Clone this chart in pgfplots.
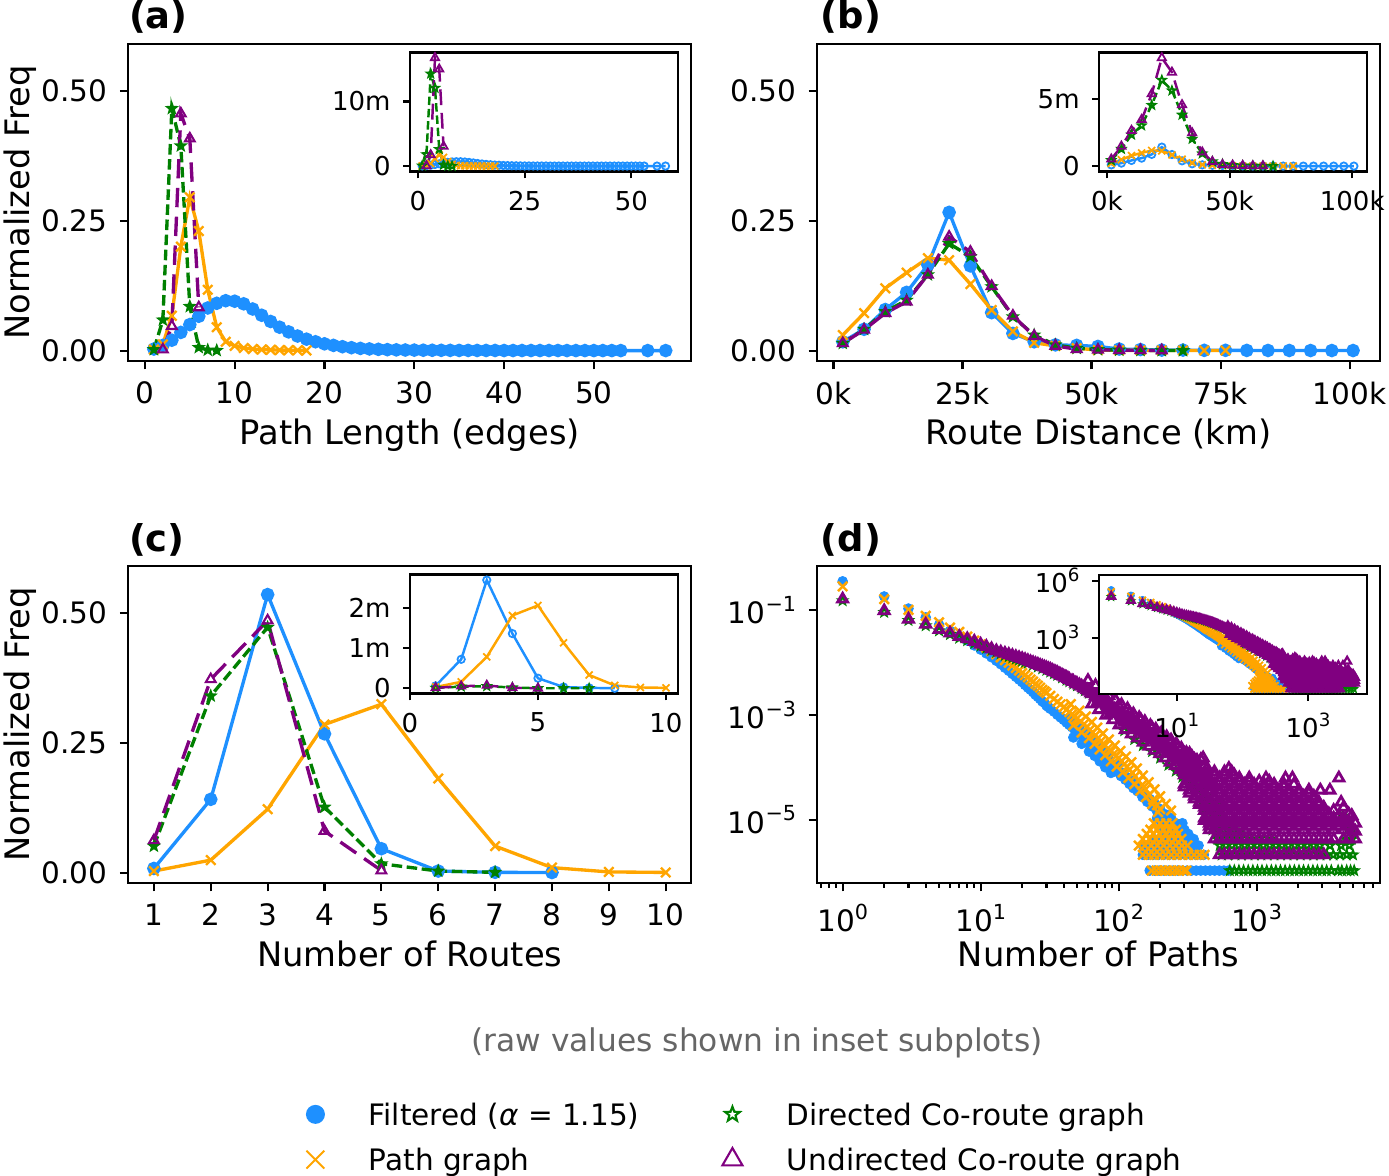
\documentclass[border=0pt]{standalone}
\usepackage{fontspec}
\setmainfont{DejaVu Sans}
\usepackage{pgfplots}
\usepackage{pgfplotstable}
\pgfplotsset{compat=1.18}
\usetikzlibrary{plotmarks}

\definecolor{cb}{HTML}{1E90FF}
\definecolor{co}{HTML}{FFA500}
\definecolor{cg}{HTML}{008000}
\definecolor{cp}{HTML}{800080}

\def\starpath{%
 \pgfpathmoveto{\pgfpointpolar{90}{\pgfplotmarksize}}%
 \pgfpathlineto{\pgfpointpolar{126}{0.42\pgfplotmarksize}}%
 \pgfpathlineto{\pgfpointpolar{162}{\pgfplotmarksize}}%
 \pgfpathlineto{\pgfpointpolar{198}{0.42\pgfplotmarksize}}%
 \pgfpathlineto{\pgfpointpolar{234}{\pgfplotmarksize}}%
 \pgfpathlineto{\pgfpointpolar{270}{0.42\pgfplotmarksize}}%
 \pgfpathlineto{\pgfpointpolar{306}{\pgfplotmarksize}}%
 \pgfpathlineto{\pgfpointpolar{342}{0.42\pgfplotmarksize}}%
 \pgfpathlineto{\pgfpointpolar{18}{\pgfplotmarksize}}%
 \pgfpathlineto{\pgfpointpolar{54}{0.42\pgfplotmarksize}}%
 \pgfpathclose}
\pgfdeclareplotmark{hstar}{\starpath\pgfusepathqstroke}
\pgfdeclareplotmark{fstar}{\starpath\pgfusepathqfillstroke}

\newcommand{\tf}{\fontsize{8.4}{10}\selectfont}
\newcommand{\lf}{\fontsize{9.6}{11}\selectfont}
\newcommand{\itf}{\fontsize{7.4}{9}\selectfont}
\newcommand{\tp}[1]{10\raisebox{0.42em}{\fontsize{5.9}{6}\selectfont #1}}
\newcommand{\tpi}[1]{10\raisebox{0.42em}{\fontsize{5.2}{6}\selectfont #1}}

\pgfplotsset{
  base/.style={scale only axis, tick pos=left, tick align=outside,
    axis line style={line width=0.6pt}, tick style={black, line width=0.6pt},
    /pgf/number format/assume math mode=true},
  mainax/.style={base, width=5.63cm, height=3.17cm, major tick length=0.085cm, minor tick length=0.05cm,
    tick label style={font=\tf}, label style={font=\lf},
    xlabel style={at={(axis description cs:0.5,-0.263)}, anchor=base},
    ylabel style={at={(axis description cs:-0.176,0.5)}, anchor=base}},
  insax/.style={base, width=2.677cm, height=1.19cm, major tick length=0.07cm,
    tick label style={font=\itf}, axis background/.style={fill=white}},
  mB/.style={cb, line width=0.95pt, mark=*, mark size=1.45pt, mark options={solid, fill=cb}},
  mO/.style={co, line width=0.95pt, mark=x, mark size=1.9pt, mark options={solid, line width=0.65pt}},
  mG/.style={cg, line width=0.95pt, dash pattern=on 3pt off 1.3pt, mark=fstar, mark size=1.5pt, mark options={solid, fill=cg, line width=0.45pt}},
  mP/.style={cp, line width=0.95pt, dash pattern=on 5.5pt off 2.7pt, mark=triangle, mark size=1.6pt, mark options={solid, line width=0.6pt}},
  iB/.style={cb, line width=0.7pt, mark=o, mark size=1.05pt, mark options={solid, line width=0.5pt}},
  iO/.style={co, line width=0.7pt, mark=x, mark size=1.4pt, mark options={solid, line width=0.5pt}},
  iG/.style={cg, line width=0.7pt, dash pattern=on 2.4pt off 1.1pt, mark=hstar, mark size=1.15pt, mark options={solid, line width=0.5pt}},
  iP/.style={cp, line width=0.7pt, dash pattern=on 4.5pt off 2.2pt, mark=triangle, mark size=1.35pt, mark options={solid, line width=0.5pt}},
  sB/.style={only marks, cb, mark=*, mark size=1.4pt, mark options={draw=cb, fill=cb, line width=0.2pt}},
  sO/.style={only marks, co, mark=x, mark size=1.9pt, mark options={line width=0.7pt}},
  sG/.style={only marks, cg, mark=hstar, mark size=1.25pt, mark options={line width=0.55pt}},
  sP/.style={only marks, cp, mark=triangle, mark size=1.65pt, mark options={line width=0.8pt}},
  tB/.style={only marks, cb, mark=*, mark size=1.0pt, mark options={draw=cb, fill=cb, line width=0.2pt}},
  tO/.style={only marks, co, mark=x, mark size=1.4pt, mark options={line width=0.55pt}},
  tG/.style={only marks, cg, mark=hstar, mark size=0.95pt, mark options={line width=0.45pt}},
  tP/.style={only marks, cp, mark=triangle, mark size=1.25pt, mark options={line width=0.65pt}},
}

% ---------------- panel (d) data (normalised frequencies) ----------------
\pgfplotstableread[row sep=\\]{
x y\\
1 0.35\\ 2 0.18\\ 3 0.106\\ 4 0.072\\ 5 0.052\\ 6 0.040\\ 7 0.032\\ 8 0.026\\ 9 0.021\\ 10 0.0175\\
11 0.0148\\ 12 0.0125\\ 13 0.0107\\ 14 0.0092\\ 15 0.0079\\ 16 0.0069\\ 17 0.0060\\ 18 0.0053\\ 19 0.0047\\ 20 0.0042\\
21 0.0037\\ 22 0.0033\\ 23 0.0030\\ 24 0.0027\\ 25 0.0024\\ 26 0.0022\\ 27 0.0020\\ 28 0.0018\\ 29 0.0017\\ 30 0.0015\\
31 0.0014\\ 32 0.0013\\ 34 0.00115\\ 36 0.00100\\ 38 0.00089\\ 40 0.00080\\ 42 0.00071\\ 44 0.00064\\ 46 0.00058\\ 48 0.00052\\
50 0.00047\\ 53 0.00041\\ 56 0.00036\\ 59 0.00031\\ 62 0.00027\\ 65 0.00024\\ 68 0.00022\\ 71 0.00020\\ 74 0.00018\\ 77 0.00016\\
80 0.000145\\ 84 0.000128\\ 88 0.000112\\ 92 0.000100\\ 96 0.000090\\ 100 0.000080\\
45 0.00085\\ 52 0.00060\\ 58 0.00046\\ 64 0.00036\\ 70 0.00028\\ 77 0.00022\\ 85 0.000175\\
47 0.00037\\ 54 0.00028\\ 61 0.00020\\ 67 0.000165\\ 73 0.000130\\ 80 0.000100\\ 88 0.000078\\
90 0.000095\\ 95 0.000110\\ 101 0.000120\\ 104 0.000068\\ 108 0.000078\\ 112 0.000058\\ 116 0.000064\\ 120 0.000048\\
124 0.000055\\ 128 0.000040\\ 132 0.000046\\ 137 0.000035\\ 143 0.000037\\ 149 0.000027\\ 155 0.000030\\ 161 0.000022\\
168 0.000025\\ 175 0.000018\\ 183 0.000020\\ 191 0.000014\\ 200 0.000016\\ 210 0.000011\\ 220 0.0000126\\ 232 0.0000097\\ 245 0.0000086\\
190 1.075e-5\\ 215 1.075e-5\\ 240 1.075e-5\\
205 8.6e-6\\ 230 8.6e-6\\ 260 8.6e-6\\ 290 8.6e-6\\
215 6.45e-6\\ 245 6.45e-6\\ 275 6.45e-6\\ 300 6.45e-6\\
225 5.38e-6\\ 255 5.38e-6\\ 290 5.38e-6\\ 320 5.38e-6\\
180 4.3e-6\\ 210 4.3e-6\\ 240 4.3e-6\\ 270 4.3e-6\\ 300 4.3e-6\\ 335 4.3e-6\\ 350 4.3e-6\\
150 3.23e-6\\ 165 3.23e-6\\ 185 3.23e-6\\ 205 3.23e-6\\ 225 3.23e-6\\ 250 3.23e-6\\ 275 3.23e-6\\ 300 3.23e-6\\ 330 3.23e-6\\ 360 3.23e-6\\ 380 3.23e-6\\
150 2.15e-6\\ 163 2.15e-6\\ 178 2.15e-6\\ 195 2.15e-6\\ 213 2.15e-6\\ 233 2.15e-6\\ 255 2.15e-6\\ 278 2.15e-6\\ 305 2.15e-6\\ 333 2.15e-6\\ 363 2.15e-6\\ 395 2.15e-6\\ 415 2.15e-6\\
168 1.075e-6\\ 182 1.075e-6\\ 197 1.075e-6\\ 213 1.075e-6\\ 230 1.075e-6\\ 248 1.075e-6\\ 268 1.075e-6\\ 290 1.075e-6\\ 313 1.075e-6\\
338 1.075e-6\\ 365 1.075e-6\\ 394 1.075e-6\\ 426 1.075e-6\\ 460 1.075e-6\\ 497 1.075e-6\\ 537 1.075e-6\\ 580 1.075e-6\\ 625 1.075e-6\\
}\dBlue

\pgfplotstableread[row sep=\\]{
x y\\
1 0.28\\ 2 0.16\\ 3 0.100\\ 4 0.077\\ 5 0.058\\ 6 0.046\\ 7 0.038\\ 8 0.031\\ 9 0.026\\ 10 0.022\\
11 0.0190\\ 12 0.0163\\ 13 0.0142\\ 14 0.0124\\ 15 0.0110\\ 16 0.0098\\ 17 0.0087\\ 18 0.0078\\ 19 0.0070\\ 20 0.0063\\
21 0.0057\\ 22 0.0052\\ 23 0.0047\\ 24 0.0043\\ 25 0.0039\\ 26 0.0036\\ 27 0.0033\\ 28 0.0030\\ 29 0.0028\\ 30 0.0026\\
32 0.0023\\ 34 0.0020\\ 36 0.00178\\ 38 0.00158\\ 40 0.00140\\ 42 0.00126\\ 44 0.00113\\ 46 0.00102\\ 48 0.00093\\ 50 0.00085\\
53 0.00075\\ 56 0.00066\\ 59 0.00059\\ 62 0.00052\\ 65 0.00046\\ 68 0.00041\\ 71 0.00036\\ 74 0.00031\\ 77 0.00028\\ 80 0.00026\\
84 0.00023\\ 88 0.00020\\ 92 0.000180\\ 96 0.000165\\ 100 0.000150\\ 105 0.000130\\ 110 0.000115\\ 115 0.000102\\ 120 0.000090\\
126 0.000078\\ 132 0.000068\\ 140 0.000055\\ 148 0.000046\\ 157 0.000038\\ 167 0.000030\\ 178 0.000024\\ 190 0.000019\\ 200 0.000016\\
45 0.0016\\ 52 0.0012\\ 58 0.00093\\ 64 0.00073\\ 70 0.00057\\ 77 0.00044\\ 85 0.00034\\ 94 0.00026\\ 103 0.000205\\
113 0.000160\\ 124 0.000125\\ 136 0.000095\\ 150 0.000070\\ 165 0.000052\\ 182 0.000038\\ 200 0.000028\\ 220 0.000020\\ 240 0.000015\\
47 0.00063\\ 54 0.00046\\ 61 0.00036\\ 67 0.00028\\ 73 0.00022\\ 80 0.00017\\ 88 0.000130\\ 97 0.000103\\ 107 0.000080\\
118 0.000063\\ 130 0.000048\\ 144 0.000036\\ 158 0.000027\\ 175 0.000020\\ 193 0.000014\\
180 8.6e-6\\ 200 8.6e-6\\ 222 8.6e-6\\ 245 8.6e-6\\
170 6.45e-6\\ 190 6.45e-6\\ 212 6.45e-6\\ 236 6.45e-6\\ 260 6.45e-6\\
160 5.38e-6\\ 178 5.38e-6\\ 198 5.38e-6\\ 220 5.38e-6\\ 244 5.38e-6\\ 270 5.38e-6\\
150 4.3e-6\\ 167 4.3e-6\\ 186 4.3e-6\\ 207 4.3e-6\\ 230 4.3e-6\\ 256 4.3e-6\\ 285 4.3e-6\\
140 3.23e-6\\ 155 3.23e-6\\ 172 3.23e-6\\ 191 3.23e-6\\ 212 3.23e-6\\ 235 3.23e-6\\ 260 3.23e-6\\ 288 3.23e-6\\ 315 3.23e-6\\
150 2.15e-6\\ 165 2.15e-6\\ 181 2.15e-6\\ 199 2.15e-6\\ 219 2.15e-6\\ 241 2.15e-6\\ 265 2.15e-6\\ 291 2.15e-6\\ 320 2.15e-6\\ 352 2.15e-6\\ 387 2.15e-6\\ 420 2.15e-6\\
174 1.075e-6\\ 188 1.075e-6\\ 203 1.075e-6\\ 219 1.075e-6\\ 236 1.075e-6\\ 255 1.075e-6\\ 275 1.075e-6\\ 297 1.075e-6\\ 310 1.075e-6\\
}\dOrange

\pgfplotstableread[row sep=\\]{
x y\\
1 0.15\\ 2 0.090\\ 3 0.063\\ 4 0.050\\ 5 0.040\\ 6 0.034\\ 7 0.029\\ 8 0.026\\ 9 0.023\\ 10 0.0205\\
11 0.0186\\ 12 0.0170\\ 13 0.0156\\ 14 0.0146\\ 15 0.0136\\ 16 0.0129\\ 17 0.0122\\ 18 0.0116\\ 19 0.0111\\ 20 0.0106\\
21 0.0101\\ 22 0.0097\\ 24 0.0089\\ 26 0.0082\\ 28 0.0076\\ 30 0.0071\\ 32 0.0066\\ 34 0.0061\\ 36 0.0057\\ 39 0.0051\\
42 0.0046\\ 44 0.0043\\ 47 0.0039\\ 50 0.0036\\ 54 0.0032\\ 57 0.0029\\ 61 0.0026\\ 65 0.0023\\ 70 0.0020\\ 74 0.00175\\
79 0.00156\\ 84 0.00138\\ 90 0.00122\\ 96 0.00108\\ 102 0.00096\\ 108 0.00086\\ 115 0.00077\\ 121 0.00069\\ 128 0.00062\\ 136 0.00055\\
144 0.00050\\ 152 0.00045\\ 161 0.00041\\ 170 0.00037\\ 180 0.00033\\ 189 0.00030\\ 200 0.00027\\ 210 0.00025\\ 222 0.00022\\ 233 0.00020\\
246 0.000182\\ 259 0.000165\\ 273 0.000147\\ 288 0.000130\\ 304 0.000115\\ 320 0.000100\\ 337 0.000090\\ 355 0.000080\\ 375 0.000071\\ 395 0.000063\\
110 0.00050\\ 130 0.00034\\ 150 0.00026\\ 175 0.00020\\ 200 0.00015\\ 230 0.00011\\ 260 0.000085\\ 290 0.000065\\ 320 0.000050\\ 350 0.000040\\
640 1.075e-6\\ 690 1.075e-6\\ 745 1.075e-6\\ 805 1.075e-6\\ 870 1.075e-6\\ 940 1.075e-6\\ 1015 1.075e-6\\ 1095 1.075e-6\\ 1185 1.075e-6\\ 1280 1.075e-6\\
1380 1.075e-6\\ 1490 1.075e-6\\ 1610 1.075e-6\\ 1740 1.075e-6\\ 1880 1.075e-6\\ 2030 1.075e-6\\ 2190 1.075e-6\\ 2370 1.075e-6\\ 2560 1.075e-6\\ 2760 1.075e-6\\
2980 1.075e-6\\ 3220 1.075e-6\\ 3480 1.075e-6\\ 3900 1.075e-6\\ 4150 1.075e-6\\ 4500 1.075e-6\\ 4800 1.075e-6\\ 5100 1.075e-6\\
560 2.15e-6\\ 620 2.15e-6\\ 700 2.15e-6\\ 780 2.15e-6\\ 870 2.15e-6\\ 970 2.15e-6\\ 1080 2.15e-6\\ 1200 2.15e-6\\ 1340 2.15e-6\\ 1500 2.15e-6\\
1670 2.15e-6\\ 1860 2.15e-6\\ 2080 2.15e-6\\ 2320 2.15e-6\\ 2590 2.15e-6\\ 2890 2.15e-6\\ 3230 2.15e-6\\ 3600 2.15e-6\\ 4020 2.15e-6\\ 4500 2.15e-6\\ 5000 2.15e-6\\
540 3.23e-6\\ 600 3.23e-6\\ 665 3.23e-6\\ 740 3.23e-6\\ 820 3.23e-6\\ 910 3.23e-6\\ 1010 3.23e-6\\ 1120 3.23e-6\\ 1245 3.23e-6\\ 1380 3.23e-6\\
1530 3.23e-6\\ 1700 3.23e-6\\ 1890 3.23e-6\\ 2100 3.23e-6\\ 2330 3.23e-6\\ 2590 3.23e-6\\ 2870 3.23e-6\\ 3400 3.23e-6\\ 4100 3.23e-6\\ 4700 3.23e-6\\
520 4.3e-6\\ 580 4.3e-6\\ 650 4.3e-6\\ 730 4.3e-6\\ 820 4.3e-6\\ 920 4.3e-6\\ 1030 4.3e-6\\ 1150 4.3e-6\\ 1290 4.3e-6\\ 4400 4.3e-6\\ 4900 4.3e-6\\
500 5.38e-6\\ 560 5.38e-6\\ 630 5.38e-6\\ 710 5.38e-6\\ 800 5.38e-6\\ 5100 5.38e-6\\
480 6.45e-6\\ 540 6.45e-6\\ 610 6.45e-6\\ 690 6.45e-6\\ 4600 6.45e-6\\
460 8.6e-6\\ 520 8.6e-6\\ 590 8.6e-6\\ 670 8.6e-6\\
440 1.18e-5\\ 500 1.18e-5\\ 570 1.18e-5\\ 4200 1.18e-5\\
420 1.61e-5\\ 480 1.61e-5\\ 550 1.61e-5\\
400 2.15e-5\\ 460 2.15e-5\\ 530 2.15e-5\\
380 3.0e-5\\ 440 3.0e-5\\ 355 4.3e-5\\ 410 4.3e-5\\ 330 5.9e-5\\ 380 5.9e-5\\
}\dGreen

\pgfplotstableread[row sep=\\]{
x y\\
1 0.16\\ 2 0.096\\ 3 0.066\\ 4 0.053\\ 5 0.042\\ 6 0.036\\ 7 0.031\\ 8 0.028\\ 9 0.025\\ 10 0.022\\
11 0.020\\ 12 0.0180\\ 13 0.0165\\ 14 0.0156\\ 15 0.0148\\ 16 0.0141\\ 17 0.0134\\ 18 0.0128\\ 19 0.0122\\ 20 0.0117\\
21 0.0112\\ 22 0.0107\\ 23 0.0102\\ 24 0.0098\\ 25 0.0094\\ 26 0.0091\\ 27 0.0087\\ 28 0.0084\\ 29 0.0081\\ 30 0.0078\\ 31 0.0075\\ 32 0.0073\\ 33 0.0070\\ 34 0.0067\\ 35 0.0065\\ 36 0.0063\\ 37 0.0060\\ 38 0.0058\\ 39 0.0056\\ 40 0.0054\\
41 0.0052\\ 42 0.0051\\ 43 0.0049\\ 44 0.0047\\ 46 0.0044\\ 47 0.0043\\ 49 0.0040\\ 50 0.0039\\ 52 0.0037\\ 54 0.0035\\ 56 0.0033\\ 57 0.0032\\ 59 0.0030\\ 61 0.0028\\ 63 0.0026\\ 65 0.0025\\ 68 0.0023\\ 70 0.0022\\ 72 0.0020\\ 74 0.0019\\
77 0.0018\\ 79 0.0017\\ 82 0.0016\\ 84 0.0015\\ 87 0.00142\\ 90 0.00135\\ 93 0.00127\\ 96 0.00120\\ 99 0.00113\\ 102 0.00106\\ 105 0.00100\\ 108 0.00094\\ 111 0.00089\\ 115 0.00084\\ 118 0.00079\\ 121 0.00075\\ 125 0.00071\\ 128 0.00067\\ 132 0.00063\\ 136 0.00060\\
140 0.00057\\ 144 0.00054\\ 148 0.00051\\ 152 0.00049\\ 156 0.00046\\ 161 0.00044\\ 165 0.00042\\ 170 0.00040\\ 175 0.00038\\ 180 0.00036\\ 185 0.00034\\ 189 0.00033\\ 195 0.00031\\ 200 0.00030\\ 205 0.00028\\ 210 0.00027\\ 216 0.00025\\ 222 0.00024\\ 227 0.00023\\ 233 0.00022\\
240 0.00021\\ 246 0.00020\\ 252 0.00019\\ 259 0.00018\\ 266 0.00017\\ 273 0.00016\\ 280 0.00015\\ 288 0.00014\\ 296 0.000132\\ 304 0.000125\\ 312 0.000117\\ 320 0.000110\\ 328 0.000104\\ 337 0.000099\\ 346 0.000093\\ 355 0.000088\\ 365 0.000083\\ 375 0.000078\\ 385 0.000074\\ 395 0.000070\\
406 0.000066\\ 417 0.000063\\ 428 0.000059\\ 440 0.000056\\ 451 0.000053\\ 462 0.000050\\ 474 0.000047\\ 486 0.000045\\
60 0.0045\\ 68 0.0036\\ 76 0.0029\\ 85 0.0023\\ 95 0.0019\\ 105 0.00155\\ 116 0.00130\\ 128 0.00104\\ 141 0.00088\\ 155 0.00074\\
170 0.00062\\ 186 0.00053\\ 204 0.00045\\ 223 0.00038\\ 240 0.00033\\ 262 0.00028\\ 285 0.00023\\ 310 0.00019\\ 340 0.00016\\ 370 0.000135\\ 410 0.000150\\ 440 0.000095\\
64 0.0016\\ 72 0.00125\\ 81 0.00098\\ 91 0.00080\\ 101 0.00064\\ 112 0.00052\\ 124 0.00043\\ 137 0.00036\\ 151 0.00030\\
166 0.00025\\ 182 0.00021\\ 199 0.00018\\ 217 0.00015\\ 237 0.000125\\ 258 0.000107\\ 281 0.000090\\ 306 0.000075\\ 333 0.000062\\
80 0.0022\\ 100 0.0015\\ 120 0.00110\\ 145 0.00080\\ 175 0.00056\\ 200 0.00043\\ 230 0.00032\\ 270 0.00024\\ 300 0.00018\\ 350 0.00012\\
70 0.0017\\ 88 0.0011\\ 110 0.00072\\ 130 0.00052\\ 160 0.00036\\ 190 0.00026\\ 225 0.00019\\ 265 0.00014\\ 300 0.000098\\ 350 0.000070\\
538 2.15e-6\\ 585 2.15e-6\\ 635 2.15e-6\\ 690 2.15e-6\\ 750 2.15e-6\\ 815 2.15e-6\\ 885 2.15e-6\\ 960 2.15e-6\\ 1045 2.15e-6\\ 1135 2.15e-6\\ 1235 2.15e-6\\
1340 2.15e-6\\ 1455 2.15e-6\\ 1580 2.15e-6\\ 1720 2.15e-6\\ 1865 2.15e-6\\ 2030 2.15e-6\\ 2200 2.15e-6\\ 2395 2.15e-6\\ 2600 2.15e-6\\ 2830 2.15e-6\\ 3070 2.15e-6\\
495 4.3e-6\\ 538 4.3e-6\\ 585 4.3e-6\\ 635 4.3e-6\\ 690 4.3e-6\\ 750 4.3e-6\\ 815 4.3e-6\\ 885 4.3e-6\\ 960 4.3e-6\\ 1045 4.3e-6\\ 1135 4.3e-6\\ 1235 4.3e-6\\ 1340 4.3e-6\\ 1455 4.3e-6\\
1580 4.3e-6\\ 1720 4.3e-6\\ 1865 4.3e-6\\ 2030 4.3e-6\\ 2200 4.3e-6\\ 2395 4.3e-6\\ 2600 4.3e-6\\ 2830 4.3e-6\\ 3070 4.3e-6\\ 3340 4.3e-6\\ 3620 4.3e-6\\ 4270 4.3e-6\\ 4650 4.3e-6\\ 5200 4.3e-6\\
456 6.45e-6\\ 495 6.45e-6\\ 585 6.45e-6\\ 690 6.45e-6\\ 815 6.45e-6\\ 960 6.45e-6\\ 1135 6.45e-6\\ 1340 6.45e-6\\ 1580 6.45e-6\\ 1865 6.45e-6\\ 2200 6.45e-6\\ 2600 6.45e-6\\ 3070 6.45e-6\\ 3620 6.45e-6\\ 4270 6.45e-6\\ 5040 6.45e-6\\
456 7.5e-6\\ 538 7.5e-6\\ 635 7.5e-6\\ 750 7.5e-6\\ 885 7.5e-6\\ 1045 7.5e-6\\ 1235 7.5e-6\\ 1455 7.5e-6\\ 1720 7.5e-6\\ 2030 7.5e-6\\ 2395 7.5e-6\\ 2830 7.5e-6\\ 3340 7.5e-6\\ 3940 7.5e-6\\ 4650 7.5e-6\\
456 8.6e-6\\ 538 8.6e-6\\ 635 8.6e-6\\ 750 8.6e-6\\ 885 8.6e-6\\ 1045 8.6e-6\\ 1235 8.6e-6\\ 1455 8.6e-6\\ 1720 8.6e-6\\ 2030 8.6e-6\\ 2395 8.6e-6\\ 2830 8.6e-6\\ 3340 8.6e-6\\ 3940 8.6e-6\\ 4650 8.6e-6\\ 5200 8.6e-6\\
420 9.7e-6\\ 495 9.7e-6\\ 585 9.7e-6\\ 690 9.7e-6\\ 815 9.7e-6\\ 960 9.7e-6\\ 1135 9.7e-6\\ 1340 9.7e-6\\ 1580 9.7e-6\\ 1865 9.7e-6\\ 2200 9.7e-6\\ 2600 9.7e-6\\ 3070 9.7e-6\\ 3620 9.7e-6\\ 4270 9.7e-6\\
420 1.075e-5\\ 495 1.075e-5\\ 585 1.075e-5\\ 690 1.075e-5\\ 815 1.075e-5\\ 960 1.075e-5\\ 1135 1.075e-5\\ 1340 1.075e-5\\ 1580 1.075e-5\\ 1865 1.075e-5\\ 2200 1.075e-5\\ 2600 1.075e-5\\ 3070 1.075e-5\\ 3620 1.075e-5\\ 4270 1.075e-5\\
456 1.18e-5\\ 538 1.18e-5\\ 635 1.18e-5\\ 750 1.18e-5\\ 885 1.18e-5\\ 1045 1.18e-5\\ 1235 1.18e-5\\ 1455 1.18e-5\\ 1720 1.18e-5\\ 2030 1.18e-5\\ 2395 1.18e-5\\ 2830 1.18e-5\\ 3340 1.18e-5\\ 3940 1.18e-5\\
456 1.29e-5\\ 538 1.29e-5\\ 635 1.29e-5\\ 750 1.29e-5\\ 885 1.29e-5\\ 1045 1.29e-5\\ 1235 1.29e-5\\ 1455 1.29e-5\\ 1720 1.29e-5\\ 2030 1.29e-5\\ 2395 1.29e-5\\ 2830 1.29e-5\\ 3340 1.29e-5\\ 4650 1.29e-5\\
420 1.5e-5\\ 495 1.5e-5\\ 585 1.5e-5\\ 690 1.5e-5\\ 815 1.5e-5\\ 960 1.5e-5\\ 1135 1.5e-5\\ 1340 1.5e-5\\ 1580 1.5e-5\\ 1865 1.5e-5\\ 2200 1.5e-5\\ 2600 1.5e-5\\ 3070 1.5e-5\\ 3620 1.5e-5\\
420 1.72e-5\\ 495 1.72e-5\\ 585 1.72e-5\\ 690 1.72e-5\\ 815 1.72e-5\\ 960 1.72e-5\\ 1135 1.72e-5\\ 1340 1.72e-5\\ 1580 1.72e-5\\ 1865 1.72e-5\\ 2200 1.72e-5\\ 2600 1.72e-5\\ 3070 1.72e-5\\ 4270 1.72e-5\\
386 1.94e-5\\ 456 1.94e-5\\ 538 1.94e-5\\ 635 1.94e-5\\ 750 1.94e-5\\ 885 1.94e-5\\ 1045 1.94e-5\\ 1235 1.94e-5\\ 1455 1.94e-5\\ 1720 1.94e-5\\ 2030 1.94e-5\\ 2395 1.94e-5\\ 2830 1.94e-5\\
386 2.15e-5\\ 456 2.15e-5\\ 538 2.15e-5\\ 635 2.15e-5\\ 750 2.15e-5\\ 885 2.15e-5\\ 1045 2.15e-5\\ 1235 2.15e-5\\ 1455 2.15e-5\\ 1720 2.15e-5\\ 2030 2.15e-5\\ 2395 2.15e-5\\ 2830 2.15e-5\\ 4100 2.15e-5\\
355 2.47e-5\\ 420 2.47e-5\\ 495 2.47e-5\\ 585 2.47e-5\\ 690 2.47e-5\\ 815 2.47e-5\\ 960 2.47e-5\\ 1135 2.47e-5\\ 1340 2.47e-5\\ 1580 2.47e-5\\ 1865 2.47e-5\\ 2200 2.47e-5\\ 2600 2.47e-5\\
355 2.8e-5\\ 420 2.8e-5\\ 495 2.8e-5\\ 585 2.8e-5\\ 690 2.8e-5\\ 815 2.8e-5\\ 960 2.8e-5\\ 1135 2.8e-5\\ 1340 2.8e-5\\ 1580 2.8e-5\\ 1865 2.8e-5\\ 2200 2.8e-5\\ 2600 2.8e-5\\
327 3.2e-5\\ 386 3.2e-5\\ 456 3.2e-5\\ 538 3.2e-5\\ 635 3.2e-5\\ 750 3.2e-5\\ 885 3.2e-5\\ 1045 3.2e-5\\ 1235 3.2e-5\\ 1455 3.2e-5\\ 1720 3.2e-5\\ 2030 3.2e-5\\ 2395 3.2e-5\\
327 3.66e-5\\ 386 3.66e-5\\ 456 3.66e-5\\ 538 3.66e-5\\ 635 3.66e-5\\ 750 3.66e-5\\ 885 3.66e-5\\ 1045 3.66e-5\\ 1235 3.66e-5\\ 1455 3.66e-5\\ 1720 3.66e-5\\ 2030 3.66e-5\\ 2395 3.66e-5\\ 2900 3.66e-5\\ 3400 3.66e-5\\
300 4.2e-5\\ 355 4.2e-5\\ 420 4.2e-5\\ 495 4.2e-5\\ 585 4.2e-5\\ 690 4.2e-5\\ 815 4.2e-5\\ 960 4.2e-5\\ 1135 4.2e-5\\ 1340 4.2e-5\\ 1580 4.2e-5\\
300 4.73e-5\\ 355 4.73e-5\\ 420 4.73e-5\\ 495 4.73e-5\\ 585 4.73e-5\\ 690 4.73e-5\\ 815 4.73e-5\\ 960 4.73e-5\\ 1135 4.73e-5\\ 1340 4.73e-5\\ 1580 4.73e-5\\ 1865 4.73e-5\\
327 5.4e-5\\ 386 5.4e-5\\ 456 5.4e-5\\ 538 5.4e-5\\ 635 5.4e-5\\ 750 5.4e-5\\ 885 5.4e-5\\ 1045 5.4e-5\\ 1235 5.4e-5\\
327 6.24e-5\\ 386 6.24e-5\\ 456 6.24e-5\\ 538 6.24e-5\\ 635 6.24e-5\\ 750 6.24e-5\\ 885 6.24e-5\\ 1170 6.24e-5\\ 1620 6.24e-5\\ 1820 6.24e-5\\ 3950 6.24e-5\\
300 7.1e-5\\ 355 7.1e-5\\ 420 7.1e-5\\ 495 7.1e-5\\ 585 7.1e-5\\ 690 7.1e-5\\
300 8.17e-5\\ 355 8.17e-5\\ 420 8.17e-5\\ 495 8.17e-5\\ 585 8.17e-5\\ 660 8.17e-5\\ 630 9.5e-5\\
300 1.075e-4\\ 355 1.075e-4\\ 420 1.075e-4\\ 300 1.4e-4\\ 355 1.4e-4\\ 395 1.4e-4\\ 300 1.83e-4\\ 327 1.83e-4\\
4900 1.2e-5\\ 5200 6.0e-6\\
}\dPurple

\begin{document}
\begin{tikzpicture}
\useasboundingbox (0,0) rectangle (13.89cm,11.76cm);

% ================= (a) =================
\begin{axis}[mainax, at={(1.283cm,8.15cm)}, anchor=south west,
  xmin=-1.85, xmax=60.85, ymin=-0.02, ymax=0.59,
  xtick={0,10,20,30,40,50}, ytick={0,0.25,0.5}, yticklabels={0.00,0.25,0.50},
  xlabel={Path Length (edges)}, ylabel={Normalized Freq}]
\addplot[mB] coordinates {(1,0.003)(2,0.010)(3,0.020)(4,0.035)(5,0.050)(6,0.066)(7,0.082)(8,0.091)(9,0.096)(10,0.095)(11,0.090)(12,0.080)(13,0.068)(14,0.056)(15,0.045)(16,0.036)(17,0.028)(18,0.022)(19,0.017)(20,0.013)(21,0.010)(22,0.0075)(23,0.0056)(24,0.0042)(25,0.0032)(26,0.0024)(27,0.0018)(28,0.0014)(29,0.0011)(30,0.0009)(31,0.0007)(32,0.0006)(33,0.0005)(34,0.0004)(35,0.0003)(36,0.0003)(37,0.0002)(38,0.0002)(39,0.0002)(40,0.0001)(41,0.0001)(42,0.0001)(43,0.0001)(44,0.0001)(45,0.0001)(46,0.0001)(47,0)(48,0)(49,0)(50,0)(51,0)(52,0)(53,0)(56,0)(58,0)};
\addplot[mO] coordinates {(1,0.002)(2,0.012)(3,0.067)(4,0.200)(5,0.295)(6,0.230)(7,0.117)(8,0.045)(9,0.017)(10,0.009)(11,0.005)(12,0.003)(13,0.002)(14,0.0015)(15,0.001)(16,0.0007)(17,0.0005)(18,0.0003)};
\addplot[mG] coordinates {(1,0.002)(2,0.059)(3,0.466)(4,0.394)(5,0.085)(6,0.006)(7,0.001)(8,0.0003)};
\addplot[mP] coordinates {(2,0.002)(3,0.047)(4,0.456)(5,0.408)(6,0.083)};
\end{axis}
\begin{axis}[insax, at={(4.10cm,10.045cm)}, anchor=south west,
  xmin=-1.85, xmax=60.85, ymin=-0.84, ymax=17.6,
  xtick={0,25,50}, ytick={0,10}, yticklabels={0,10m}]
\addplot[iB] coordinates {(1,0.02)(2,0.07)(3,0.14)(4,0.25)(5,0.35)(6,0.46)(7,0.57)(8,0.64)(9,0.67)(10,0.67)(11,0.63)(12,0.56)(13,0.48)(14,0.39)(15,0.32)(16,0.25)(17,0.20)(18,0.15)(19,0.12)(20,0.09)(21,0.07)(22,0.05)(23,0.04)(24,0.03)(25,0.02)(26,0.02)(27,0.01)(28,0.01)(29,0.01)(30,0.01)(31,0)(32,0)(33,0)(34,0)(35,0)(36,0)(37,0)(38,0)(39,0)(40,0)(41,0)(42,0)(43,0)(44,0)(45,0)(46,0)(47,0)(48,0)(49,0)(50,0)(51,0)(52,0)(53,0)(56,0)(58,0)};
\addplot[iO] coordinates {(1,0.01)(2,0.07)(3,0.39)(4,1.16)(5,1.71)(6,1.33)(7,0.68)(8,0.26)(9,0.10)(10,0.05)(11,0.03)(12,0.02)(13,0.01)(14,0.01)(15,0.01)(16,0)(17,0)(18,0)};
\addplot[iG] coordinates {(1,0.06)(2,1.81)(3,14.31)(4,12.10)(5,2.61)(6,0.18)(7,0.03)(8,0.01)};
\addplot[iP] coordinates {(2,0.04)(3,1.73)(4,16.78)(5,15.01)(6,3.05)};
\end{axis}

% ================= (b) =================
\begin{axis}[mainax, at={(8.17cm,8.15cm)}, anchor=south west,
  xmin=-3.2, xmax=105.9, ymin=-0.02, ymax=0.59,
  xtick={0,25,50,75,100}, xticklabels={0k,25k,50k,75k,100k},
  ytick={0,0.25,0.5}, yticklabels={0.00,0.25,0.50},
  xlabel={Route Distance (km)}]
\addplot[mB] coordinates {(1.8,0.017)(5.92,0.041)(10.04,0.079)(14.16,0.112)(18.28,0.165)(22.40,0.266)(26.52,0.163)(30.64,0.073)(34.76,0.033)(38.88,0.017)(43.00,0.011)(47.12,0.010)(51.24,0.008)(55.36,0.003)(59.48,0.002)(63.60,0.001)(67.72,0.001)(71.84,0.0005)(75.96,0.0005)(80.08,0.0003)(84.20,0.0002)(88.32,0.0002)(92.44,0.0001)(96.56,0.0001)(100.68,0.0001)};
\addplot[mO] coordinates {(1.8,0.030)(5.92,0.072)(10.04,0.120)(14.16,0.150)(18.28,0.178)(22.40,0.174)(26.52,0.128)(30.64,0.078)(34.76,0.037)(38.88,0.015)(43.00,0.009)(47.12,0.0045)(51.24,0.001)(55.36,0.0005)(59.48,0.0003)(63.60,0.0002)(67.72,0.0001)(71.84,0.0001)(75.96,0.0001)};
\addplot[mG] coordinates {(1.8,0.014)(5.92,0.041)(10.04,0.075)(14.16,0.097)(18.28,0.146)(22.40,0.206)(26.52,0.181)(30.64,0.123)(34.76,0.065)(38.88,0.030)(43.00,0.011)(47.12,0.0045)(51.24,0.002)(55.36,0.001)(59.48,0.0005)(63.60,0.0002)(67.72,0.0001)};
\addplot[mP] coordinates {(1.8,0.014)(5.92,0.040)(10.04,0.072)(14.16,0.094)(18.28,0.146)(22.40,0.219)(26.52,0.190)(30.64,0.124)(34.76,0.067)(38.88,0.028)(43.00,0.009)(47.12,0.0026)(51.24,0.0015)(55.36,0.0008)(59.48,0.0004)(63.60,0.0002)};
\end{axis}
\begin{axis}[insax, at={(10.99cm,10.045cm)}, anchor=south west,
  xmin=-3.2, xmax=105.9, ymin=-0.40, ymax=8.44,
  xtick={0,50,100}, xticklabels={0k,50k,100k}, ytick={0,5}, yticklabels={0,5m}]
\addplot[iB] coordinates {(1.8,0.09)(5.92,0.22)(10.04,0.42)(14.16,0.59)(18.28,0.87)(22.40,1.41)(26.52,0.86)(30.64,0.39)(34.76,0.17)(38.88,0.09)(43.00,0.06)(47.12,0.05)(51.24,0.04)(55.36,0.02)(59.48,0.01)(63.60,0.01)(67.72,0.01)(71.84,0)(75.96,0)(80.08,0)(84.20,0)(88.32,0)(92.44,0)(96.56,0)(100.68,0)};
\addplot[iO] coordinates {(1.8,0.20)(5.92,0.47)(10.04,0.78)(14.16,0.98)(18.28,1.16)(22.40,1.13)(26.52,0.83)(30.64,0.51)(34.76,0.24)(38.88,0.10)(43.00,0.06)(47.12,0.03)(51.24,0.01)(55.36,0)(59.48,0)(63.60,0)(67.72,0)(71.84,0)(75.96,0)};
\addplot[iG] coordinates {(1.8,0.43)(5.92,1.27)(10.04,2.33)(14.16,3.01)(18.28,4.53)(22.40,6.39)(26.52,5.61)(30.64,3.81)(34.76,2.02)(38.88,0.93)(43.00,0.34)(47.12,0.14)(51.24,0.06)(55.36,0.03)(59.48,0.02)(63.60,0.01)(67.72,0)};
\addplot[iP] coordinates {(1.8,0.51)(5.92,1.47)(10.04,2.64)(14.16,3.45)(18.28,5.36)(22.40,8.04)(26.52,6.97)(30.64,4.55)(34.76,2.46)(38.88,1.03)(43.00,0.33)(47.12,0.10)(51.24,0.06)(55.36,0.03)(59.48,0.01)(63.60,0.01)};
\end{axis}

% ================= (c) =================
\begin{axis}[mainax, at={(1.283cm,2.93cm)}, anchor=south west,
  xmin=0.55, xmax=10.45, ymin=-0.02, ymax=0.59,
  xtick={1,2,3,4,5,6,7,8,9,10}, ytick={0,0.25,0.5}, yticklabels={0.00,0.25,0.50},
  xlabel={Number of Routes}, ylabel={Normalized Freq}]
\addplot[mB] coordinates {(1,0.008)(2,0.141)(3,0.535)(4,0.267)(5,0.046)(6,0.003)(7,0.0005)(8,0.0001)};
\addplot[mO] coordinates {(1,0.003)(2,0.024)(3,0.122)(4,0.285)(5,0.324)(6,0.181)(7,0.051)(8,0.0096)(9,0.0013)(10,0.0003)};
\addplot[mG] coordinates {(1,0.051)(2,0.340)(3,0.472)(4,0.126)(5,0.017)(6,0.003)(7,0.0005)};
\addplot[mP] coordinates {(1,0.062)(2,0.372)(3,0.485)(4,0.080)(5,0.004)};
\end{axis}
\begin{axis}[insax, at={(4.10cm,4.825cm)}, anchor=south west,
  xmin=0, xmax=10.46, ymin=-0.13, ymax=2.83,
  xtick={0,5,10}, ytick={0,1,2}, yticklabels={0,1m,2m}]
\addplot[iB] coordinates {(1,0.06)(2,0.72)(3,2.69)(4,1.36)(5,0.25)(6,0.03)(7,0.01)(8,0.00)};
\addplot[iO] coordinates {(1,0.03)(2,0.16)(3,0.78)(4,1.81)(5,2.06)(6,1.13)(7,0.33)(8,0.07)(9,0.02)(10,0.01)};
\addplot[iG] coordinates {(1,0.01)(2,0.04)(3,0.05)(4,0.02)(5,0.00)(6,0.00)(7,0.00)};
\addplot[iP] coordinates {(1,0.01)(2,0.05)(3,0.07)(4,0.01)(5,0.00)};
\end{axis}

% ================= (d) =================
\begin{axis}[mainax, at={(8.17cm,2.93cm)}, anchor=south west,
  xmode=log, ymode=log, xmin=0.652, xmax=7852, ymin=6.24e-7, ymax=0.686,
  xtick={1,10,100,1000}, xticklabels={\tp{0},\tp{1},\tp{2},\tp{3}},
  minor xtick={0.7,0.8,0.9,2,3,4,5,6,7,8,9,20,30,40,50,60,70,80,90,200,300,400,500,600,700,800,900,2000,3000,4000,5000,6000,7000},
  ytick={1e-1,1e-3,1e-5}, yticklabels={\tp{−1},\tp{−3},\tp{−5}}, yminorticks=false,
  xlabel={Number of Paths}]
\addplot[sB] table {\dBlue};
\addplot[sO] table {\dOrange};
\addplot[sG] table {\dGreen};
\addplot[sP] table {\dPurple};
\end{axis}
\begin{axis}[insax, at={(10.99cm,4.82cm)}, anchor=south west,
  xmode=log, ymode=log, xmin=0.652, xmax=7852, ymin=1.179e-6, ymax=2.145,
  xtick={10,1000}, xticklabels={\tpi{1},\tpi{3}},
  ytick={1.0753e-3,1.0753}, yticklabels={\tpi{3},\tpi{6}},
  xminorticks=false, yminorticks=false]
\addplot[tB] table {\dBlue};
\addplot[tO] table {\dOrange};
\addplot[tG] table {\dGreen};
\addplot[tP] table {\dPurple};
\end{axis}

% panel letters and footer
\node[anchor=base west, inner sep=0pt, font=\bfseries\fontsize{10.5}{12}\selectfont] at (1.283cm,11.47cm) {(a)};
\node[anchor=base west, inner sep=0pt, font=\bfseries\fontsize{10.5}{12}\selectfont] at (8.20cm,11.47cm) {(b)};
\node[anchor=base west, inner sep=0pt, font=\bfseries\fontsize{10.5}{12}\selectfont] at (1.283cm,6.24cm) {(c)};
\node[anchor=base west, inner sep=0pt, font=\bfseries\fontsize{10.5}{12}\selectfont] at (8.20cm,6.24cm) {(d)};
\node[anchor=base, inner sep=0pt, font=\fontsize{8.9}{10}\selectfont, text=black!60] at (7.57cm,1.245cm) {(raw values shown in inset subplots)};

% legend
\begin{axis}[at={(0,0)}, anchor=south west, scale only axis, width=13.89cm, height=11.76cm,
  xmin=0, xmax=1389, ymin=0, ymax=1176, hide axis,
  legend columns=2, legend cell align=left,
  legend image code/.code={\draw[#1] plot coordinates {(0cm,0cm)};},
  legend style={at={(axis cs:306.5,78.5)}, anchor=north west, draw=none, fill=none,
    inner sep=0pt, outer sep=0pt, font=\fontsize{8.4}{10}\selectfont,
    column sep=0.445cm, row sep=0.115cm,
    nodes={inner sep=0pt, text height=0.8em, text depth=0.16em},
    /tikz/every even column/.append style={column sep=0.83cm}}]
\addlegendimage{cb, mark=*, mark size=2.5pt, mark options={fill=cb, draw=cb}}
\addlegendentry{Filtered (\textit{α} = 1.15)}
\addlegendimage{cg, mark=hstar, mark size=2.2pt, mark options={line width=0.6pt}}
\addlegendentry{Directed Co-route graph}
\addlegendimage{co, mark=x, mark size=3.6pt, mark options={line width=0.55pt}}
\addlegendentry{Path graph}
\addlegendimage{cp, mark=triangle, mark size=3.3pt, mark options={line width=0.6pt}}
\addlegendentry{Undirected Co-route graph}
\end{axis}
\end{tikzpicture}
\end{document}
